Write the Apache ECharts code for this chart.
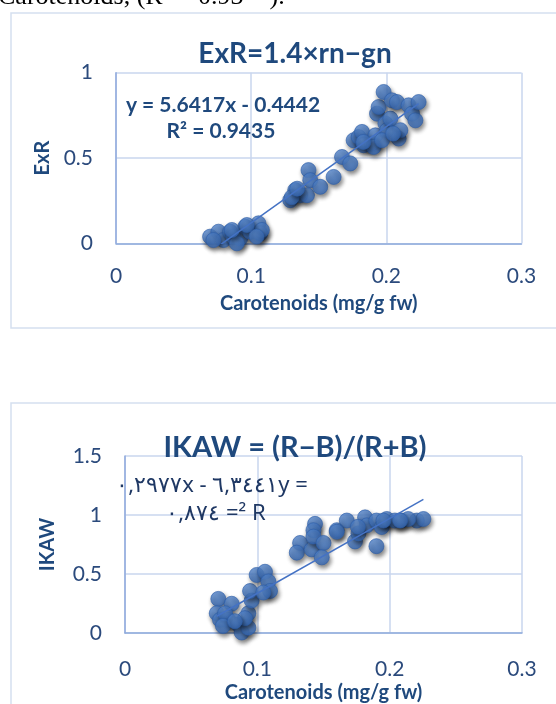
<!DOCTYPE html>
<html>
<head>
<meta charset="utf-8">
<script src="https://cdn.jsdelivr.net/npm/echarts@6/dist/echarts.min.js"></script>
<style>
html,body{margin:0;padding:0;background:#fff;}
#c{width:556px;height:704px;}
</style>
</head>
<body>
<div id="c"></div>
<script>
// ---- Data: top chart (ExR vs Carotenoids) ----
const exrX = [0.0696,0.0758,0.0795,0.0844,0.0869,0.0919,0.0956,0.0993,0.1054,0.1067,0.1079,0.0894,0.0721,0.0857,0.0968,0.1040,
  0.1289,0.1326,0.1363,0.1424,0.1437,0.1413,0.1511,0.1610,0.1672,0.1733,0.1300,0.1340,
  0.1758,0.1795,0.1820,0.1832,0.1894,0.1919,0.1931,0.1943,0.1980,0.1993,0.2005,0.2030,0.2042,0.2079,0.2091,0.2104,0.2165,0.2190,0.2215,0.2239,0.1906,0.1968,0.1830,0.2050];
const exrY = [0.039,0.068,0.019,0.068,0.039,0.029,0.097,0.068,0.117,0.058,0.078,0.000,0.019,0.078,0.107,0.040,
  0.253,0.312,0.282,0.429,0.370,0.282,0.331,0.389,0.506,0.468,0.270,0.320,
  0.604,0.623,0.653,0.575,0.585,0.633,0.760,0.799,0.887,0.702,0.663,0.731,0.838,0.828,0.614,0.663,0.809,0.760,0.721,0.828,0.565,0.604,0.594,0.643];
const exrSlope = 5.6417, exrIntercept = -0.4442;

// ---- Data: bottom chart (IKAW vs Carotenoids) ----
const ikawX = [0.0705,0.0693,0.0718,0.0806,0.0780,0.0856,0.0882,0.0932,0.0932,0.0907,0.0756,0.0740,0.0830,
  0.0957,0.0945,0.0995,0.1058,0.1083,0.1096,0.1045,
  0.1323,0.1298,0.1411,0.1436,0.1424,0.1424,0.1500,0.1487,0.1600,0.1676,0.1600,
  0.1738,0.1764,0.1814,0.1827,0.1900,0.1900,0.1940,0.1978,0.2040,0.2090,0.2205,0.2255,0.2140,0.1953,0.2079,0.1760];
const ikawY = [0.289,0.167,0.112,0.248,0.112,0.072,0.004,0.167,0.045,0.126,0.167,0.060,0.100,
  0.275,0.356,0.492,0.519,0.437,0.356,0.343,
  0.763,0.681,0.709,0.925,0.871,0.817,0.763,0.641,0.871,0.953,0.858,
  0.776,0.844,0.980,0.912,0.736,0.953,0.898,0.966,0.953,0.953,0.953,0.966,0.966,0.953,0.953,0.900];
const ikawSlope = 6.3441, ikawIntercept = -0.2977;

// ---- Text ----
const headerText = 'Carotenoids, (R² = 0.93**).';
const title1 = 'ExR=1.4×rn−gn';
const title2 = 'IKAW = (R−B)/(R+B)';
const eq1 = ['y = 5.6417x - 0.4442', 'R² = 0.9435'];
const eq2 = ['\u202D٠,٢٩٧٧x - ٦,٣٤٤١y =', '\u202D٠,٨٧٤ =² R'];
const xName = 'Carotenoids (mg/g fw)';
const y1Name = 'ExR', y2Name = 'IKAW';
const xTicks = [0, 0.1, 0.2, 0.3];
const y1Ticks = [0, 0.5, 1];
const y2Ticks = [0, 0.5, 1, 1.5];

function pairs(xs, ys){ return xs.map((x,i)=>[x, ys[i]]); }
function trend(xs, m, b){
  const lo = Math.min(...xs), hi = Math.max(...xs);
  return [[lo, m*lo+b],[hi, m*hi+b]];
}

const FONT = 'Lato';
const DARK = '#1f497d';
const TICK = '#2b4a7c';
const GRID = '#c8d6ee';
const AXIS = '#8faadc';

const markerStyle = {
  color: {type:'radial', x:0.4, y:0.35, r:0.75,
    colorStops:[{offset:0,color:'#5d8fd6'},{offset:1,color:'#3366b3'}]},
  borderColor:'#2e5fa8', borderWidth:0.8,
  shadowBlur:4, shadowColor:'rgba(0,0,0,0.6)', shadowOffsetX:1.5, shadowOffsetY:3
};

function xAxis(gi){
  return {
    gridIndex: gi, type:'value', min: xTicks[0], max: xTicks[xTicks.length-1], interval: 0.1,
    axisLine:{show:true, lineStyle:{color:AXIS, width:1.5}},
    axisTick:{show:false},
    splitLine:{show:true, lineStyle:{color:GRID, width:1.5}},
    axisLabel:{color:TICK, fontFamily:FONT, fontSize:21, margin: gi===0 ? 22 : 26,
      formatter: v => String(+v.toFixed(1))},
    name: xName, nameLocation:'middle', nameGap: gi===0 ? 50 : 50,
    nameTextStyle:{color:DARK, fontFamily:FONT, fontWeight:'bold', fontSize:20}
  };
}
function yAxis(gi, ticks, name, gap){
  return {
    gridIndex: gi, type:'value', min: ticks[0], max: ticks[ticks.length-1], interval: 0.5,
    axisLine:{show:true, lineStyle:{color:AXIS, width:1.5}},
    axisTick:{show:false},
    splitLine:{show:true, lineStyle:{color:GRID, width:1.5}},
    axisLabel:{color:TICK, fontFamily:FONT, fontSize:21, margin:23,
      formatter: v => String(+v.toFixed(1))},
    name: name, nameLocation:'middle', nameGap: gap, nameRotate: 90,
    nameTextStyle:{color:DARK, fontFamily:FONT, fontWeight:'bold', fontSize:20}
  };
}

const chart = echarts.init(document.getElementById('c'), null, {renderer:'canvas'});
chart.setOption({
  backgroundColor:'#fff',
  animation:false,
  title:[
    {text:title1, left:290, top:35, textAlign:'center',
      textStyle:{color:DARK, fontFamily:FONT, fontWeight:'bold', fontSize:28}},
    {text:title2, left:290, top:428, textAlign:'center',
      textStyle:{color:DARK, fontFamily:FONT, fontWeight:'bold', fontSize:29}}
  ],
  grid:[
    {left:116, top:72.7, width:405.5, height:170.6, containLabel:false},
    {left:125, top:456, width:397, height:184.5, containLabel:false}
  ],
  xAxis:[xAxis(0), xAxis(1)],
  yAxis:[yAxis(0, y1Ticks, y1Name, 60), yAxis(1, y2Ticks, y2Name, 67)],
  series:[
    {type:'scatter', xAxisIndex:0, yAxisIndex:0, data:pairs(exrX, exrY),
      symbolSize:15, itemStyle:markerStyle, z:3},
    {type:'line', xAxisIndex:0, yAxisIndex:0, data:trend(exrX, exrSlope, exrIntercept),
      symbol:'none', lineStyle:{color:'#4472c4', width:1.5}, clip:true, z:4},
    {type:'scatter', xAxisIndex:1, yAxisIndex:1, data:pairs(ikawX, ikawY),
      symbolSize:15, itemStyle:markerStyle, z:3},
    {type:'line', xAxisIndex:1, yAxisIndex:1, data:trend(ikawX, ikawSlope, ikawIntercept),
      symbol:'none', lineStyle:{color:'#4472c4', width:1.5}, clip:true, z:4}
  ],
  graphic:[
    {type:'rect', shape:{x:11, y:13, width:560, height:315},
      style:{fill:'none', stroke:'#d5e0f0', lineWidth:1.5}, z:-1, silent:true},
    {type:'rect', shape:{x:11, y:403, width:560, height:320},
      style:{fill:'none', stroke:'#d5e0f0', lineWidth:1.5}, z:-1, silent:true},
    {type:'text', left:-2, top:-16,
      style:{text:headerText, fill:'#000', font:'26px "Liberation Serif"'}},
    {type:'text', x:223, y:105, z:10,
      style:{text:eq1[0], fill:DARK, font:'bold 21px Lato', textAlign:'center', textVerticalAlign:'middle'}},
    {type:'text', x:221, y:131, z:10,
      style:{text:eq1[1], fill:DARK, font:'bold 21px Lato', textAlign:'center', textVerticalAlign:'middle'}},
    {type:'text', x:212, y:486, z:10,
      style:{text:eq2[0], fill:'#1f3864', font:'22px "Noto Sans"', textAlign:'center', textVerticalAlign:'middle'}},
    {type:'text', x:216, y:514, z:10,
      style:{text:eq2[1], fill:'#1f3864', font:'22px "Noto Sans"', textAlign:'center', textVerticalAlign:'middle'}}
  ]
});
</script>
</body>
</html>
